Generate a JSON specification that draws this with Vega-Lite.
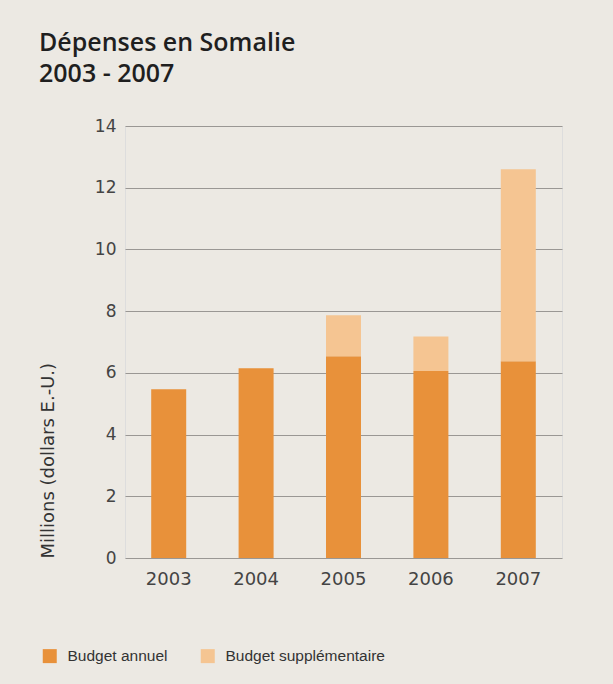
{
  "$schema": "https://vega.github.io/schema/vega-lite/v6.json",
  "width": 437,
  "height": 432,
  "autosize": {"type": "none"},
  "padding": {"left": 125, "top": 126, "right": 51, "bottom": 126},
  "background": "#ECE9E3",
  "title": {
    "text": ["Dépenses en Somalie", "2003 - 2007"],
    "anchor": "start",
    "frame": "group",
    "dx": -86,
    "offset": 30,
    "font": "Open Sans",
    "fontWeight": 600,
    "fontSize": 25,
    "lineHeight": 31,
    "color": "#1f1f1f"
  },
  "data": {
    "values": [
      {"annee": "2003", "type": "Budget annuel", "rang": 1, "montant": 5.47},
      {"annee": "2004", "type": "Budget annuel", "rang": 1, "montant": 6.15},
      {"annee": "2005", "type": "Budget annuel", "rang": 1, "montant": 6.54},
      {"annee": "2005", "type": "Budget supplémentaire", "rang": 2, "montant": 1.33},
      {"annee": "2006", "type": "Budget annuel", "rang": 1, "montant": 6.06},
      {"annee": "2006", "type": "Budget supplémentaire", "rang": 2, "montant": 1.12},
      {"annee": "2007", "type": "Budget annuel", "rang": 1, "montant": 6.38},
      {"annee": "2007", "type": "Budget supplémentaire", "rang": 2, "montant": 6.22}
    ]
  },
  "mark": {"type": "bar", "size": 35},
  "encoding": {
    "x": {
      "field": "annee",
      "type": "nominal",
      "scale": {"paddingInner": 0, "paddingOuter": 0},
      "axis": {
        "title": null,
        "labelAngle": 0,
        "ticks": false,
        "domain": false,
        "labelPadding": 12,
        "labelFont": "DejaVu Sans",
        "labelFontSize": 18,
        "labelColor": "#444444"
      }
    },
    "y": {
      "field": "montant",
      "type": "quantitative",
      "stack": "zero",
      "scale": {"domain": [0, 14]},
      "axis": {
        "title": "Millions (dollars E.-U.)",
        "titleAnchor": "start",
        "titleFont": "DejaVu Sans",
        "titleFontSize": 18,
        "titleFontWeight": "normal",
        "titleColor": "#333333",
        "titlePadding": 37,
        "values": [0, 2, 4, 6, 8, 10, 12, 14],
        "ticks": false,
        "domain": false,
        "labelPadding": 9,
        "labelFont": "DejaVu Sans",
        "labelFontSize": 17,
        "labelColor": "#444444",
        "gridColor": "#9a9794",
        "gridWidth": 1.2
      }
    },
    "order": {"field": "rang", "type": "quantitative", "sort": "ascending"},
    "color": {
      "field": "type",
      "type": "nominal",
      "scale": {
        "domain": ["Budget annuel", "Budget supplémentaire"],
        "range": ["#E8913A", "#F5C592"]
      },
      "legend": {
        "title": null,
        "orient": "none",
        "legendX": -83,
        "legendY": 522,
        "direction": "horizontal",
        "symbolType": "square",
        "symbolSize": 196,
        "symbolStrokeWidth": 0,
        "labelFont": "Liberation Sans",
        "labelFontSize": 15.5,
        "labelColor": "#333333",
        "columnPadding": 32,
        "labelOffset": 10
      }
    }
  }
}
